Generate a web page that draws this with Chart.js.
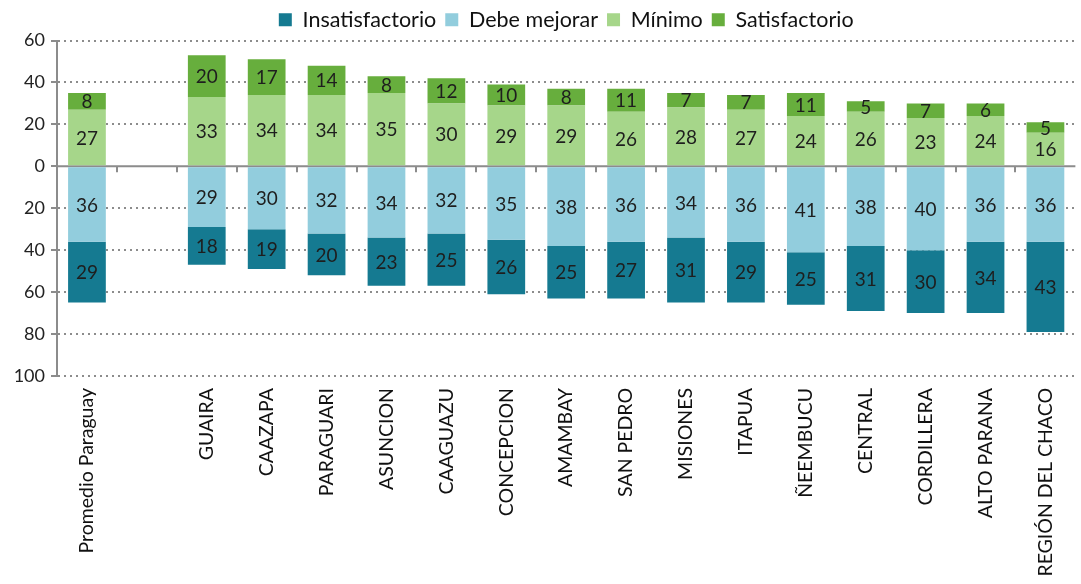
<!DOCTYPE html>
<html>
<head>
<meta charset="utf-8">
<script src="https://cdn.jsdelivr.net/npm/chart.js@4.4.1/dist/chart.umd.min.js"></script>
<style>
  html, body { margin: 0; padding: 0; background: #fff; }
  #wrap { width: 1081px; height: 584px; position: relative; }
</style>
</head>
<body>
<div id="wrap"><canvas id="chart"></canvas></div>
<script>
const departamentos = ['Promedio Paraguay', '', 'GUAIRA', 'CAAZAPA', 'PARAGUARI', 'ASUNCION', 'CAAGUAZU',
  'CONCEPCION', 'AMAMBAY', 'SAN PEDRO', 'MISIONES', 'ITAPUA', 'ÑEEMBUCU', 'CENTRAL', 'CORDILLERA',
  'ALTO PARANA', 'REGIÓN DEL CHACO'];

// porcentajes (los niveles bajos se dibujan hacia abajo)
const insatisfactorio = [29, null, 18, 19, 20, 23, 25, 26, 25, 27, 31, 29, 25, 31, 30, 34, 43];
const debeMejorar     = [36, null, 29, 30, 32, 34, 32, 35, 38, 36, 34, 36, 41, 38, 40, 36, 36];
const minimo          = [27, null, 33, 34, 34, 35, 30, 29, 29, 26, 28, 27, 24, 26, 23, 24, 16];
const satisfactorio   = [8, null, 20, 17, 14, 8, 12, 10, 8, 11, 7, 7, 11, 5, 7, 6, 5];

const yTicks = [60, 40, 20, 0, -20, -40, -60, -80, -100];

const neg = (arr) => arr.map(v => v === null ? null : -v);

const FONT = 'Lato, "Open Sans", sans-serif';

const valueLabels = {
  id: 'valueLabels',
  afterDatasetsDraw(chart) {
    const ctx = chart.ctx;
    ctx.save();
    ctx.font = '19px ' + FONT;
    ctx.fillStyle = '#1e1e1e';
    ctx.textAlign = 'center';
    ctx.textBaseline = 'middle';
    chart.data.datasets.forEach((ds, i) => {
      const meta = chart.getDatasetMeta(i);
      meta.data.forEach((el, j) => {
        const v = ds.data[j];
        if (v === null) return;
        ctx.fillText(Math.abs(v), el.x, (el.y + el.base) / 2 + 1);
      });
    });
    ctx.restore();
  }
};

// solid zero line with small tick marks between categories
const zeroAxis = {
  id: 'zeroAxis',
  beforeDatasetsDraw(chart) {
    const ctx = chart.ctx;
    const x = chart.scales.x, y = chart.scales.y;
    const y0 = y.getPixelForValue(0);
    ctx.save();
    ctx.strokeStyle = '#8c8c8c';
    ctx.lineWidth = 2;
    ctx.beginPath();
    ctx.moveTo(chart.chartArea.left, y0);
    ctx.lineTo(chart.chartArea.right, y0);
    for (let i = 1; i < departamentos.length; i++) {
      const px = Math.round((x.getPixelForValue(i - 1) + x.getPixelForValue(i)) / 2);
      ctx.moveTo(px, y0);
      ctx.lineTo(px, y0 + 6);
    }
    ctx.stroke();
    ctx.restore();
  }
};

const ctx = document.getElementById('chart').getContext('2d');
new Chart(ctx, {
  type: 'bar',
  data: {
    labels: departamentos,
    datasets: [
      { label: 'Insatisfactorio', data: neg(insatisfactorio), backgroundColor: '#157a91', order: 2 },
      { label: 'Debe mejorar', data: neg(debeMejorar), backgroundColor: '#92cddd', order: 1 },
      { label: 'Mínimo', data: minimo, backgroundColor: '#a6d68a', order: 3 },
      { label: 'Satisfactorio', data: satisfactorio, backgroundColor: '#67ae3d', order: 4 },
    ],
  },
  options: {
    responsive: true,
    maintainAspectRatio: false,
    animation: false,
    layout: { padding: { top: 0, right: 0, left: 0, bottom: 0 } },
    datasets: {
      bar: {
        categoryPercentage: 1,
        barPercentage: 0.63,
        borderWidth: 0,
        borderSkipped: false,
      },
    },
    scales: {
      x: {
        stacked: true,
        grid: { display: false, drawTicks: false },
        border: { display: false },
        ticks: {
          minRotation: 90,
          maxRotation: 90,
          autoSkip: false,
          padding: 12,
          color: '#111',
          font: { family: FONT, size: 19.5 },
        },
        afterFit(scale) { scale.height = 208; },
      },
      y: {
        stacked: true,
        min: -100,
        max: 60,
        afterBuildTicks(scale) { scale.ticks = yTicks.map(v => ({ value: v })); },
        ticks: {
          color: '#222',
          font: { family: FONT, size: 18 },
          padding: 6,
          callback: (v) => Math.abs(v),
        },
        grid: {
          color: (c) => c.tick && c.tick.value === 0 ? 'rgba(0,0,0,0)' : '#8c8c8c',
          lineWidth: 2,
          tickColor: '#8c8c8c',
          tickLength: 6,
          tickBorderDash: [],
        },
        border: { display: true, color: '#8c8c8c', width: 2, dash: [2, 4] },
        afterFit(scale) { scale.width = 57; },
      },
    },
    plugins: {
      legend: {
        position: 'top',
        fullSize: false,
        labels: {
          color: '#111',
          boxWidth: 13,
          boxHeight: 13,
          padding: 9,
          font: { family: FONT, size: 21.5 },
          sort: (a, b) => a.datasetIndex - b.datasetIndex,
        },
      },
      tooltip: { enabled: false },
    },
  },
  plugins: [zeroAxis, valueLabels],
});
</script>
</body>
</html>
